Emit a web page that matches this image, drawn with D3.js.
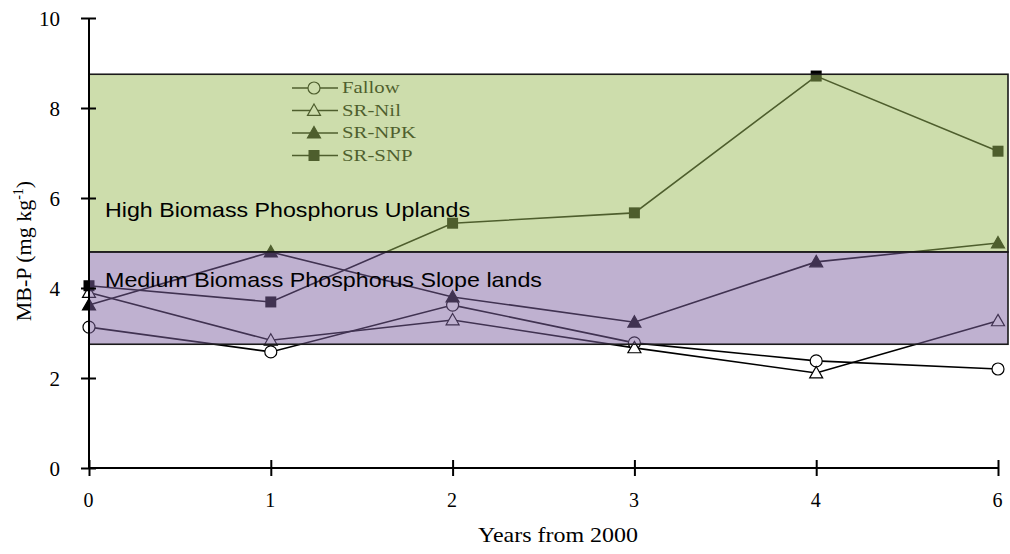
<!DOCTYPE html>
<html>
<head>
<meta charset="utf-8">
<script src="https://cdn.jsdelivr.net/npm/d3@7"></script>
<style>
  html, body { margin: 0; padding: 0; background: #fff; }
  svg { display: block; }
</style>
</head>
<body>
<svg id="chart" width="1010" height="554"></svg>
<script>
// ---- data ----
const years = ["0", "1", "2", "3", "4", "6"];
const fallow = [3.13, 2.58, 3.62, 2.78, 2.38, 2.20];
const srNil  = [3.90, 2.84, 3.29, 2.67, 2.11, 3.27];
const srNpk  = [3.62, 4.80, 3.80, 3.24, 4.58, 5.00];
const srSnp  = [4.05, 3.69, 5.44, 5.67, 8.71, 7.04];
const seriesNames = ["Fallow", "SR-Nil", "SR-NPK", "SR-SNP"];
const seriesMarkers = ["circle", "openTri", "tri", "square"];
const yTicks = [0, 2, 4, 6, 8, 10];
const bandLabels = ["High Biomass Phosphorus Uplands", "Medium Biomass Phosphorus Slope lands"];
const bandTop = [8.75, 4.80];
const bandBottom = [4.80, 2.75];
const bandColors = ["#9BBB59", "#8064A2"];

const series = seriesNames.map((name, i) => ({
  name, marker: seriesMarkers[i],
  values: [fallow, srNil, srNpk, srSnp][i]
}));

// ---- layout ----
const svg = d3.select("#chart");
const x = d3.scalePoint().domain(years).range([89, 998]);
const y = d3.scaleLinear().domain([0, 10]).range([468, 18]);
const bandRight = 1008;
const serif = "'Liberation Serif', 'Times New Roman', serif";
const sans = "'Liberation Sans', Arial, sans-serif";

function drawMarker(g, type, cx, cy) {
  if (type === "circle") {
    g.append("circle").attr("cx", cx).attr("cy", cy).attr("r", 6)
      .attr("fill", "#fff").attr("stroke", "#000").attr("stroke-width", 1.2);
  } else if (type === "openTri" || type === "tri") {
    const s = 6.5;
    g.append("path")
      .attr("d", `M${cx},${cy - s}L${cx + s},${cy + s * 0.75}L${cx - s},${cy + s * 0.75}Z`)
      .attr("fill", type === "tri" ? "#000" : "#fff")
      .attr("stroke", "#000").attr("stroke-width", 1.2);
  } else {
    g.append("rect").attr("x", cx - 5.5).attr("y", cy - 5.5)
      .attr("width", 11).attr("height", 11).attr("fill", "#000");
  }
}

// ---- lines ----
const line = d3.line().x((d, i) => x(years[i])).y(d => y(d));
const gLines = svg.append("g");
series.forEach(s => {
  gLines.append("path").attr("d", line(s.values))
    .attr("fill", "none").attr("stroke", "#000").attr("stroke-width", 1.6);
});
const gMarks = svg.append("g");
series.forEach(s => {
  s.values.forEach((v, i) => drawMarker(gMarks, s.marker, x(years[i]), y(v)));
});

// ---- legend ----
const gLeg = svg.append("g");
series.forEach((s, i) => {
  const ly = 88 + i * 22.5;
  gLeg.append("line").attr("x1", 292).attr("x2", 338).attr("y1", ly).attr("y2", ly)
    .attr("stroke", "#000").attr("stroke-width", 1.6);
  drawMarker(gLeg, s.marker, 314, ly);
  gLeg.append("text")
    .attr("transform", `translate(342,${ly + 5}) scale(1.3,1)`)
    .attr("font-family", serif).attr("font-size", 16).attr("fill", "#000")
    .text(s.name);
});

// ---- bands (semi-transparent overlay) ----
const gBands = svg.append("g");
bandLabels.forEach((lab, i) => {
  gBands.append("rect")
    .attr("x", x(years[0])).attr("y", y(bandTop[i]))
    .attr("width", bandRight - x(years[0]))
    .attr("height", y(bandBottom[i]) - y(bandTop[i]))
    .attr("fill", bandColors[i]).attr("fill-opacity", 0.5)
    .attr("stroke", "#1a1a1a").attr("stroke-width", 1.6);
});
const bandTextLens = [365, 437];
const bandBaselines = [217, 287];
bandLabels.forEach((lab, i) => {
  svg.append("text")
    .attr("x", 105).attr("y", bandBaselines[i])
    .attr("font-family", sans).attr("font-size", 21).attr("fill", "#000")
    .attr("textLength", bandTextLens[i]).attr("lengthAdjust", "spacingAndGlyphs")
    .text(lab);
});

// ---- axes ----
const yAxis = d3.axisLeft(y).tickValues(yTicks).tickSize(8).tickPadding(0);
const gy = svg.append("g").attr("transform", `translate(${x(years[0])},0)`).call(yAxis);
gy.select(".domain").attr("d", `M0,${y(10)}V${y(0)}`).attr("stroke", "#000").attr("stroke-width", 2);
gy.selectAll(".tick line").attr("x1", -8).attr("x2", 7).attr("stroke", "#000").attr("stroke-width", 2);
gy.selectAll(".tick text").remove();
gy.selectAll(".tick").append("text")
  .attr("x", -29).attr("y", 7)
  .attr("text-anchor", "end")
  .attr("font-family", serif).attr("font-size", 21).attr("fill", "#000")
  .text(d => d);

const xAxis = d3.axisBottom(x).tickSize(8).tickPadding(0);
const gx = svg.append("g").attr("transform", `translate(0,${y(0)})`).call(xAxis);
gx.select(".domain").attr("d", `M${x(years[0])},0H${x(years[years.length - 1])}`)
  .attr("stroke", "#000").attr("stroke-width", 2);
gx.selectAll(".tick line").attr("y1", -8).attr("y2", 8).attr("stroke", "#000").attr("stroke-width", 2);
gx.selectAll(".tick text").remove();
gx.selectAll(".tick").append("text")
  .attr("x", -1).attr("y", 39)
  .attr("text-anchor", "middle")
  .attr("font-family", serif).attr("font-size", 20).attr("fill", "#000")
  .text(d => d);

// ---- axis titles ----
svg.append("text")
  .attr("x", 558).attr("y", 542).attr("text-anchor", "middle")
  .attr("font-family", serif).attr("font-size", 21).attr("fill", "#000")
  .attr("textLength", 160).attr("lengthAdjust", "spacingAndGlyphs")
  .text("Years from 2000");

const yt = svg.append("text")
  .attr("transform", "translate(31,251) rotate(-90)")
  .attr("text-anchor", "middle")
  .attr("font-family", serif).attr("font-size", 22).attr("fill", "#000");
yt.append("tspan").text("MB-P (mg kg");
yt.append("tspan").attr("font-size", 14).attr("dy", -8).text("-1");
yt.append("tspan").attr("dy", 8).text(")");
</script>
</body>
</html>
